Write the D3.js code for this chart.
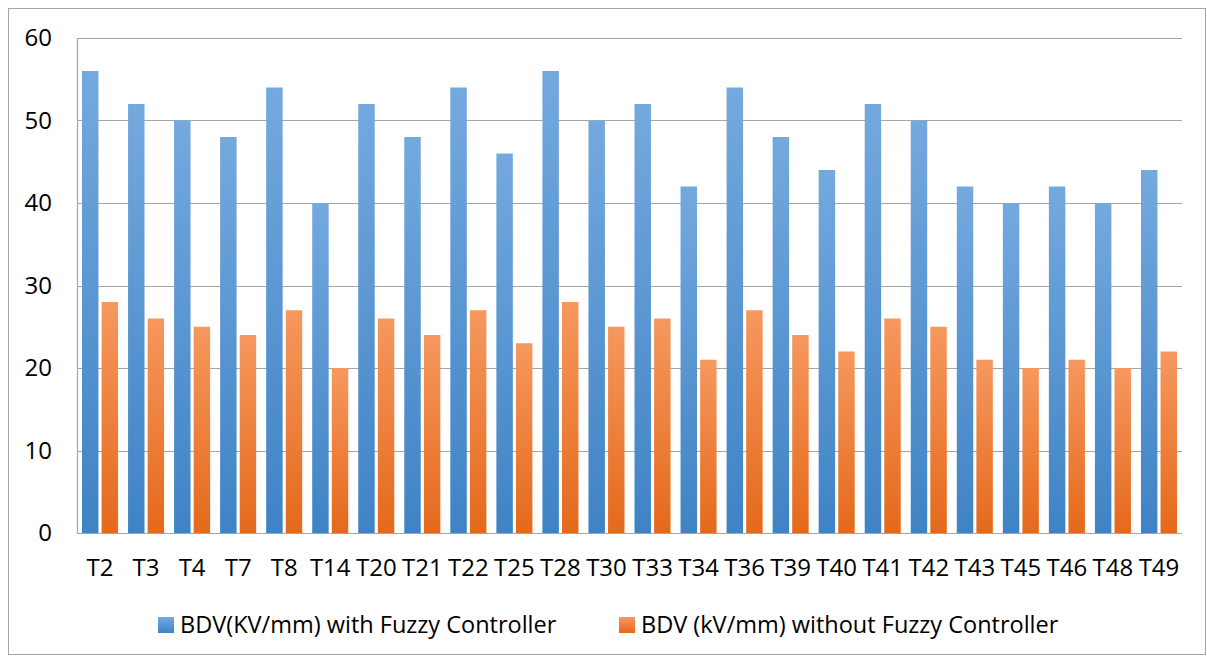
<!DOCTYPE html>
<html>
<head>
<meta charset="utf-8">
<script src="https://cdn.jsdelivr.net/npm/d3@7"></script>
<style>
	body { margin: 0; background: #fff; }
	svg { display: block; font-family: "Open Sans", Lato, sans-serif; }
	.tick text { fill: #000; }
</style>
</head>
<body>
<svg id="chart"></svg>
<script>
const categories = ['T2', 'T3', 'T4', 'T7', 'T8', 'T14', 'T20', 'T21', 'T22', 'T25', 'T28', 'T30',
	'T33', 'T34', 'T36', 'T39', 'T40', 'T41', 'T42', 'T43', 'T45', 'T46', 'T48', 'T49'];
const withFuzzy = [56, 52, 50, 48, 54, 40, 52, 48, 54, 46, 56, 50, 52, 42, 54, 48, 44, 52, 50, 42, 40, 42, 40, 44];
const withoutFuzzy = [28, 26, 25, 24, 27, 20, 26, 24, 27, 23, 28, 25, 26, 21, 27, 24, 22, 26, 25, 21, 20, 21, 20, 22];
const seriesNames = ['BDV(KV/mm) with Fuzzy Controller', 'BDV (kV/mm) without Fuzzy Controller'];
const yTicks = [0, 10, 20, 30, 40, 50, 60];

const width = 1207, height = 657;
const margin = {top: 38, right: 25, bottom: 124, left: 77};
const innerW = width - margin.left - margin.right;
const innerH = height - margin.top - margin.bottom;
const fontSize = 24;

const svg = d3.select('#chart').attr('width', width).attr('height', height);

// gradients like the office bar fill
const defs = svg.append('defs');
const grads = [
	{id: 'g-blue', top: '#74a9de', bottom: '#3f83c5'},
	{id: 'g-orange', top: '#f6985f', bottom: '#e4691b'}
];
grads.forEach(g => {
	const lg = defs.append('linearGradient').attr('id', g.id)
		.attr('x1', 0).attr('y1', 0).attr('x2', 0).attr('y2', 1);
	lg.append('stop').attr('offset', '0%').attr('stop-color', g.top);
	lg.append('stop').attr('offset', '100%').attr('stop-color', g.bottom);
});

// outer frame
svg.append('rect')
	.attr('x', 8.5).attr('y', 8.5)
	.attr('width', width - 10).attr('height', height - 11)
	.attr('fill', 'none').attr('stroke', '#a6a6a6').attr('stroke-width', 1);

const chart = svg.append('g').attr('transform', `translate(${margin.left},${margin.top})`);

const xScale = d3.scaleBand().domain(categories).range([0, innerW]);
const yScale = d3.scaleLinear().domain([0, 60]).range([innerH, 0]);

const sub = d3.scaleBand().domain([0, 1]).range([5, xScale.bandwidth() - 5]).paddingInner(0.16);

// gridlines
chart.append('g').selectAll('line')
	.data(yTicks)
	.join('line')
	.attr('x1', 0).attr('x2', innerW)
	.attr('y1', d => Math.round(yScale(d)) + 0.5)
	.attr('y2', d => Math.round(yScale(d)) + 0.5)
	.attr('stroke', '#a6a6a6').attr('stroke-width', 1.2);

// left axis line
chart.append('line')
	.attr('x1', 0.5).attr('x2', 0.5).attr('y1', 0).attr('y2', innerH)
	.attr('stroke', '#a6a6a6').attr('stroke-width', 1.2);

const rows = categories.map((c, i) => ({cat: c, vals: [withFuzzy[i], withoutFuzzy[i]]}));

const groups = chart.append('g').selectAll('g')
	.data(rows)
	.join('g')
	.attr('transform', d => `translate(${xScale(d.cat)},0)`);

groups.selectAll('rect')
	.data(d => d.vals.map((v, k) => ({k, v})))
	.join('rect')
	.attr('x', d => sub(d.k))
	.attr('width', sub.bandwidth())
	.attr('y', d => yScale(d.v))
	.attr('height', d => innerH - yScale(d.v))
	.attr('fill', d => `url(#${grads[d.k].id})`);

// axes
const yAxis = d3.axisLeft(yScale).tickValues(yTicks).tickSize(0).tickPadding(25);
chart.append('g').call(yAxis)
	.call(g => g.select('.domain').remove())
	.selectAll('text').attr('font-size', fontSize).attr('font-family', '"Open Sans", sans-serif');

const xAxis = d3.axisBottom(xScale).tickSize(0).tickPadding(26);
chart.append('g').attr('transform', `translate(0,${innerH})`).call(xAxis)
	.call(g => g.select('.domain').remove())
	.selectAll('text').attr('font-size', fontSize).attr('font-family', '"Open Sans", sans-serif');

// legend
const legendItems = [
	{x: 158, name: seriesNames[0], k: 0},
	{x: 619, name: seriesNames[1], k: 1}
];
const legend = svg.append('g').selectAll('g')
	.data(legendItems)
	.join('g')
	.attr('transform', d => `translate(${d.x},617)`);
legend.append('rect')
	.attr('width', 16).attr('height', 16)
	.attr('fill', d => `url(#${grads[d.k].id})`);
legend.append('text')
	.attr('x', 22).attr('y', 16)
	.attr('font-size', 23.5)
	.attr('fill', '#000')
	.text(d => d.name);
</script>
</body>
</html>
